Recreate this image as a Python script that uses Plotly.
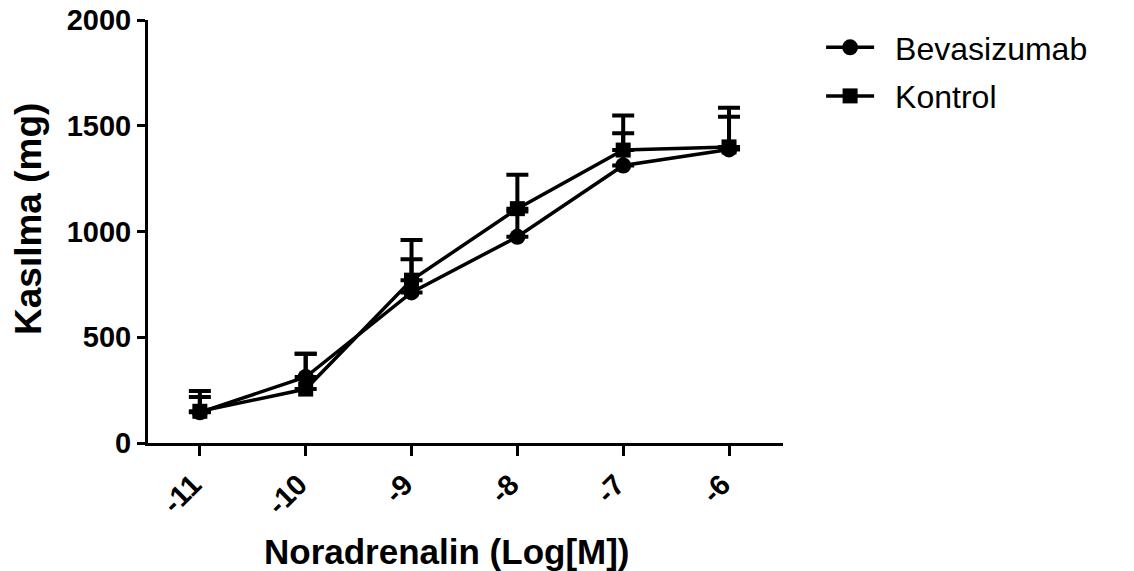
import plotly.graph_objects as go

# Noradrenaline concentration (log molar)
log_conc = [-11, -10, -9, -8, -7, -6]
tick_text = ["-11", "-10", "-9", "-8", "-7", "-6"]

# Contraction (mg), mean and upper SEM
bevasizumab_mean = [145, 312, 712, 975, 1312, 1388]
bevasizumab_err = [72, 110, 157, 120, 152, 155]
kontrol_mean = [150, 255, 770, 1108, 1385, 1400]
kontrol_err = [96, 167, 190, 160, 163, 185]

font_family = "Liberation Sans, Arial, sans-serif"

fig = go.Figure()

fig.add_trace(go.Scatter(
    x=log_conc, y=bevasizumab_mean, name="\u2002Bevasizumab", legendgroup="b",
    mode="lines+markers",
    line=dict(color="black", width=3.5),
    marker=dict(symbol="circle", size=16, color="black"),
    error_y=dict(type="data", symmetric=False, array=bevasizumab_err,
                 arrayminus=[0] * len(bevasizumab_err),
                 color="black", thickness=4, width=11),
))

fig.add_trace(go.Scatter(
    x=log_conc, y=kontrol_mean, name="\u2002Kontrol", legendgroup="k",
    mode="lines+markers",
    line=dict(color="black", width=3.5),
    marker=dict(symbol="square", size=15, color="black"),
    error_y=dict(type="data", symmetric=False, array=kontrol_err,
                 arrayminus=[0] * len(kontrol_err),
                 color="black", thickness=4, width=11),
))

fig.update_layout(
    width=1134, height=571,
    margin=dict(l=148, r=351, t=20, b=128),
    paper_bgcolor="white", plot_bgcolor="white",
    font=dict(family=font_family, color="black"),
    showlegend=True,
    legend=dict(
        x=1.06, y=1.0, xanchor="left", yanchor="top",
        font=dict(size=32, family=font_family, color="black"),
        itemwidth=48, tracegroupgap=4,
        bgcolor="rgba(0,0,0,0)",
    ),
    xaxis=dict(
        range=[-11.49, -5.49],
        tickvals=log_conc, ticktext=tick_text, tickangle=-45,
        showgrid=False, zeroline=False,
        showline=True, linecolor="black", linewidth=3,
        ticks="outside", ticklen=10, tickwidth=3, tickcolor="black",
        tickfont=dict(size=29, family=font_family, weight="bold"),
        ticklabelshift=-7,
        automargin=False,
    ),
    yaxis=dict(
        range=[0, 2000],
        tickvals=[0, 500, 1000, 1500, 2000],
        showgrid=False, zeroline=False,
        showline=True, linecolor="black", linewidth=3,
        ticks="outside", ticklen=8, tickwidth=3, tickcolor="black",
        tickfont=dict(size=29, family=font_family, weight="bold"),
        automargin=False,
    ),
    annotations=[
        dict(text="Noradrenalin (Log[M])", xref="paper", yref="paper",
             x=(447 - 148) / 635, y=-(551 - 443) / 423,
             xanchor="center", yanchor="middle", showarrow=False,
             font=dict(size=35, family=font_family, weight="bold")),
        dict(text="Kasılma (mg)", xref="paper", yref="paper", textangle=-90,
             x=-(148 - 28) / 635, y=(443 - 219) / 423,
             xanchor="center", yanchor="middle", showarrow=False,
             font=dict(size=37, family=font_family, weight="bold")),
    ],
)

fig.write_html("out.html")
